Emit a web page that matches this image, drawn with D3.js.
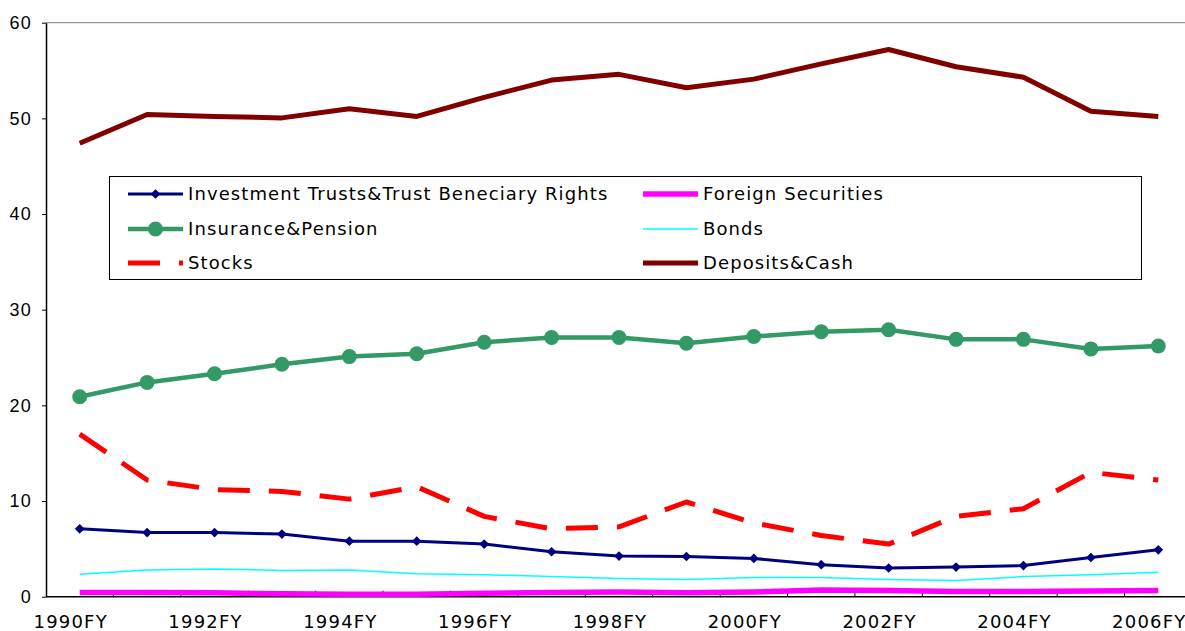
<!DOCTYPE html>
<html>
  <head>
    <meta charset="utf-8">
    <title>Household financial assets</title>
    <script src="https://cdn.jsdelivr.net/npm/d3@7"></script>
    <style>
      body { margin: 0; background: #fff; }
      svg { display: block; font-family: "DejaVu Sans", sans-serif; }
      .tickLabel { font-size: 18px; fill: #000; letter-spacing: 1.2px; }
      .legendText { font-size: 18px; fill: #000; letter-spacing: 1.1px; }
    </style>
  </head>

  <body>
    <svg id="chart" width="1185" height="631"></svg>

    <script>
      // data (share of household financial assets, %)
      years = ["1990FY", "1991FY", "1992FY", "1993FY", "1994FY", "1995FY", "1996FY", "1997FY", "1998FY",
        "1999FY", "2000FY", "2001FY", "2002FY", "2003FY", "2004FY", "2005FY", "2006FY"];
      yTicks = [0, 10, 20, 30, 40, 50, 60];
      investmentTrusts = [7.1, 6.7, 6.7, 6.55, 5.8, 5.8, 5.5, 4.7, 4.25, 4.2, 4.0, 3.35, 3.0, 3.1, 3.25, 4.1, 4.9];
      insurancePension = [20.9, 22.4, 23.3, 24.3, 25.1, 25.4, 26.6, 27.1, 27.1, 26.5, 27.2, 27.7, 27.9, 26.9, 26.9, 25.9, 26.2];
      stocks = [17.0, 12.2, 11.2, 11.0, 10.2, 11.5, 8.4, 7.1, 7.3, 9.9, 7.7, 6.4, 5.5, 8.4, 9.2, 13.0, 12.2];
      foreignSecurities = [0.45, 0.45, 0.4, 0.3, 0.25, 0.25, 0.35, 0.45, 0.5, 0.4, 0.5, 0.7, 0.65, 0.55, 0.55, 0.6, 0.65];
      bonds = [2.35, 2.8, 2.9, 2.75, 2.8, 2.4, 2.3, 2.1, 1.9, 1.8, 2.0, 2.0, 1.8, 1.7, 2.1, 2.3, 2.55];
      depositsCash = [47.4, 50.4, 50.2, 50.05, 51.0, 50.2, 52.2, 54.0, 54.6, 53.2, 54.1, 55.7, 57.2, 55.4, 54.3, 50.75, 50.2];

      series = [
        { name: "Investment Trusts&Trust Beneciary Rights", values: investmentTrusts, colour: "#000080", width: 3, marker: "diamond" },
        { name: "Insurance&Pension", values: insurancePension, colour: "#339966", width: 4.5, marker: "circle" },
        { name: "Stocks", values: stocks, colour: "#ff0000", width: 5, dash: "32,19" },
        { name: "Foreign Securities", values: foreignSecurities, colour: "#ff00ff", width: 5.5 },
        { name: "Bonds", values: bonds, colour: "#00ffff", width: 1.5 },
        { name: "Deposits&Cash", values: depositsCash, colour: "#800000", width: 5 }
      ];

      // layout
      svg = d3.select("#chart");
      plot = { left: 46, right: 1192, top: 22.7, bottom: 596.7 };

      x = d3.scaleBand()
        .domain(years)
        .range([plot.left, plot.right]);
      y = d3.scaleLinear()
        .domain([0, 60])
        .range([plot.bottom, plot.top]);
      cx = function(d) { return x(d) + x.bandwidth() / 2; };

      // top frame line
      svg.append("line")
        .attr("x1", plot.left).attr("x2", plot.right)
        .attr("y1", plot.top).attr("y2", plot.top)
        .attr("stroke", "#808080")
        .attr("stroke-width", 1);

      // y axis
      yAxis = d3.axisLeft(y)
        .tickValues(yTicks)
        .tickSize(4)
        .tickPadding(10)
        .tickSizeOuter(0);
      yGroup = svg.append("g")
        .attr("transform", "translate(" + plot.left + ",0)")
        .call(yAxis);
      yGroup.select(".domain").attr("stroke-width", 1.5);
      yGroup.selectAll("text")
        .attr("class", "tickLabel")
        .attr("font-family", null)
        .attr("font-size", null);

      // x axis: inward ticks on band boundaries, labels every other year
      xGroup = svg.append("g")
        .attr("transform", "translate(0," + plot.bottom + ")");
      xGroup.append("line")
        .attr("x1", plot.left).attr("x2", plot.right)
        .attr("stroke", "#000")
        .attr("stroke-width", 1.5);
      xGroup.selectAll(".xTick")
        .data(years.slice(1))
        .join("line")
          .attr("class", "xTick")
          .attr("x1", function(d) { return x(d); })
          .attr("x2", function(d) { return x(d); })
          .attr("y1", 0).attr("y2", -6)
          .attr("stroke", "#000");
      xGroup.selectAll(".xLabel")
        .data(years.filter(function(d, i) { return i % 2 === 0; }))
        .join("text")
          .attr("class", "tickLabel")
          .attr("x", function(d) { return cx(d) - 9; })
          .attr("y", 31)
          .attr("text-anchor", "middle")
          .text(function(d) { return d; });

      // lines
      line = d3.line()
        .x(function(d, i) { return cx(years[i]); })
        .y(function(d) { return y(d); });

      drawOrder = [4, 3, 0, 2, 1, 5];
      drawOrder.forEach(function(k) {
        s = series[k];
        svg.append("path")
          .datum(s.values)
          .attr("d", line)
          .attr("fill", "none")
          .attr("stroke", s.colour)
          .attr("stroke-width", s.width)
          .attr("stroke-linejoin", "round")
          .attr("stroke-dasharray", s.dash || null);
        if (s.marker === "circle") {
          svg.append("g").selectAll("circle")
            .data(s.values)
            .join("circle")
              .attr("cx", function(d, i) { return cx(years[i]); })
              .attr("cy", function(d) { return y(d); })
              .attr("r", 7.5)
              .attr("fill", s.colour);
        }
        if (s.marker === "diamond") {
          svg.append("g").selectAll("path")
            .data(s.values)
            .join("path")
              .attr("d", d3.symbol(d3.symbolDiamond2, 60))
              .attr("transform", function(d, i) { return "translate(" + cx(years[i]) + "," + y(d) + ")"; })
              .attr("fill", s.colour);
        }
      });

      // legend (filled column by column)
      legend = svg.append("g");
      legend.append("rect")
        .attr("x", 109.5).attr("y", 176.5)
        .attr("width", 1032).attr("height", 103)
        .attr("fill", "#fff")
        .attr("stroke", "#000")
        .attr("stroke-width", 1);
      legendCols = [128, 643];
      legendRows = [194, 229, 263];
      series.forEach(function(s, i) {
        lx = legendCols[Math.floor(i / 3)];
        ly = legendRows[i % 3];
        item = legend.append("g");
        item.append("line")
          .attr("x1", lx).attr("x2", lx + 55)
          .attr("y1", ly).attr("y2", ly)
          .attr("stroke", s.colour)
          .attr("stroke-width", s.width)
          .attr("stroke-dasharray", s.dash || null);
        if (s.marker === "circle") {
          item.append("circle")
            .attr("cx", lx + 27.5).attr("cy", ly)
            .attr("r", 7.5)
            .attr("fill", s.colour);
        }
        if (s.marker === "diamond") {
          item.append("path")
            .attr("d", d3.symbol(d3.symbolDiamond2, 60))
            .attr("transform", "translate(" + (lx + 27.5) + "," + ly + ")")
            .attr("fill", s.colour);
        }
        item.append("text")
          .attr("class", "legendText")
          .attr("x", lx + 60)
          .attr("y", ly)
          .attr("dy", "0.35em")
          .text(s.name);
      });
    </script>
  </body>
</html>
